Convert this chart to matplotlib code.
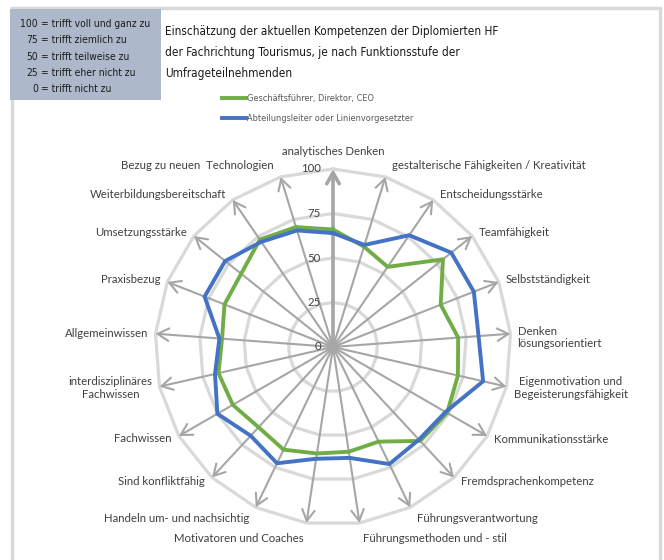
import numpy as np
import matplotlib
matplotlib.use('Agg')
import matplotlib.pyplot as plt
from matplotlib.patches import Rectangle
from matplotlib import font_manager

# ========== data ==========

categories = [
    'analytisches Denken',
    'gestalterische Fähigkeiten / Kreativität',
    'Entscheidungsstärke',
    'Teamfähigkeit',
    'Selbstständigkeit',
    'Denken\nlösungsorientiert',
    'Eigenmotivation und\nBegeisterungsfähigkeit',
    'Kommunikationsstärke',
    'Fremdsprachenkompetenz',
    'Führungsverantwortung',
    'Führungsmethoden und - stil',
    'Motivatoren und Coaches',
    'Handeln um- und nachsichtig',
    'Sind konfliktfähig',
    'Fachwissen',
    'interdisziplinäres\nFachwissen',
    'Allgemeinwissen',
    'Praxisbezug',
    'Umsetzungsstärke',
    'Weiterbildungsbereitschaft',
    'Bezug zu neuen  Technologien',
]

ceo = [66, 59, 54.5, 79, 65, 70.5, 72, 74, 72, 59, 59.5, 60.5, 64, 61.5, 65, 66, 62.5, 65.5, 66, 73, 70.5]
abteilungsleiter = [64, 60, 76, 85, 85, 82, 86.5, 73, 71, 73, 63, 63.5, 72.5, 68, 75, 68, 64, 77.5, 77.5, 71.5, 68.5]

series_names = ['Geschäftsführer, Direktor, CEO', 'Abteilungsleiter oder Linienvorgesetzter']
levels = [0, 25, 50, 75, 100]

scale_numbers = ['100', '75', '50', '25', '0']
scale_texts = ['trifft voll und ganz zu', 'trifft ziemlich zu', 'trifft teilweise zu',
               'trifft eher nicht zu', 'trifft nicht zu']

title = ('Einschätzung der aktuellen Kompetenzen der Diplomierten HF\n'
         'der Fachrichtung Tourismus, je nach Funktionsstufe der\n'
         'Umfrageteilnehmenden')

# ========== fonts / layout helpers ==========

W, H = 664, 560
label_font = ['Lato', 'DejaVu Sans']

# narrow font for title, scale box and legend: condensed DejaVu if present, else Roboto
available = {(f.name, str(f.stretch)) for f in font_manager.fontManager.ttflist}
if ('DejaVu Sans', 'condensed') in available:
    narrow = dict(family=['DejaVu Sans'], stretch='condensed')
    k = 1.0
else:
    narrow = dict(family=['Roboto', 'DejaVu Sans'])
    k = 0.93


def fx(px):
    return px / W


def fy(py):
    return 1 - py / H


fig = plt.figure(figsize=(W / 100, H / 100), dpi=100)
fig.patch.set_facecolor('white')

# frame and scale box
fig.patches.append(Rectangle((fx(12), fy(570)), fx(660) - fx(12), fy(8) - fy(570),
                             transform=fig.transFigure, fill=False,
                             edgecolor='#d9d9d9', lw=2.5, zorder=0))
fig.patches.append(Rectangle((fx(10), fy(100)), fx(161) - fx(10), fy(9) - fy(100),
                             transform=fig.transFigure, facecolor='#adb9ca',
                             edgecolor='none', zorder=1))

for i, (n, t) in enumerate(zip(scale_numbers, scale_texts)):
    y = fy(24 + 16.3 * i)
    fig.text(fx(38), y, n, ha='right', va='center', fontsize=7.4 * k, color='#1a1a1a', **narrow)
    fig.text(fx(41), y, '= ' + t, ha='left', va='center', fontsize=7.4 * k, color='#1a1a1a', **narrow)

fig.text(fx(165), fy(25), title, ha='left', va='top', fontsize=8.5 * k,
         linespacing=1.82, color='#1a1a1a', **narrow)

# ========== radar ==========

ax = fig.add_axes([fx(155), fy(525), 356 / W, 356 / H], projection='polar')
ax.set_theta_zero_location('N')
ax.set_theta_direction(-1)
ax.set_ylim(0, 100)
ax.grid(False)
ax.set_xticks([])
ax.set_yticks([])
ax.spines['polar'].set_visible(False)
ax.set_facecolor('none')

theta = np.linspace(0, 2 * np.pi, len(categories), endpoint=False)
theta_closed = np.append(theta, theta[0])

# polygon rings
for lvl in levels[1:]:
    ax.plot(theta_closed, [lvl] * len(theta_closed), color='#d9d9d9', lw=2.3, zorder=1, clip_on=False)

# spokes with arrow heads
for i, t in enumerate(theta):
    ax.annotate('', xy=(t, 100), xytext=(t, 0),
                arrowprops=dict(arrowstyle='->,head_length=0.8,head_width=0.45',
                                color='#a6a6a6', lw=2.6 if i == 0 else 1.5,
                                shrinkA=0, shrinkB=0),
                zorder=2, annotation_clip=False)

line_ceo, = ax.plot(theta_closed, ceo + [ceo[0]], color='#70ad47', lw=2.8, zorder=4,
                    clip_on=False, label=series_names[0])
line_abt, = ax.plot(theta_closed, abteilungsleiter + [abteilungsleiter[0]], color='#4472c4', lw=2.8,
                    zorder=5, clip_on=False, label=series_names[1])

# value labels
for lvl in levels:
    ax.annotate(str(lvl), xy=(0, lvl), xytext=(-12, 0), textcoords='offset pixels',
                ha='right', va='center', fontsize=8.2, family=label_font, color='#404040',
                annotation_clip=False)

# category labels
for t, name in zip(theta, categories):
    s, c = np.sin(t), np.cos(t)
    if abs(s) < 0.05:
        ha, va, off = 'center', 'bottom', (0, 12)
    elif abs(s) < 0.2:
        ha = 'left' if s > 0 else 'right'
        va, off = 'top', (3 * np.sign(s), -10)
    else:
        ha = 'left' if s > 0 else 'right'
        dy = 12 * c if abs(c) > 0.9 else 6 * c
        if name.startswith('Denken'):
            dy -= 4
        va, off = 'center', (7 * np.sign(s), dy)
    malign = 'left' if name.startswith('Denken') else 'center'
    ax.annotate(name, xy=(t, 100), xytext=off, textcoords='offset pixels',
                ha=ha, va=va, multialignment=malign, fontsize=8.2, family=label_font,
                color='#404040', linespacing=1.15, annotation_clip=False)

# legend
leg_prop = font_manager.FontProperties(size=6.6 * k, **narrow)
fig.legend([line_ceo, line_abt], series_names, loc='upper left',
           bbox_to_anchor=(fx(222), fy(94)), frameon=False,
           handlelength=2.6, handletextpad=0.15, labelspacing=1.25,
           borderpad=0, borderaxespad=0, labelcolor='#595959', prop=leg_prop)

fig.savefig('out.png', dpi=100)
